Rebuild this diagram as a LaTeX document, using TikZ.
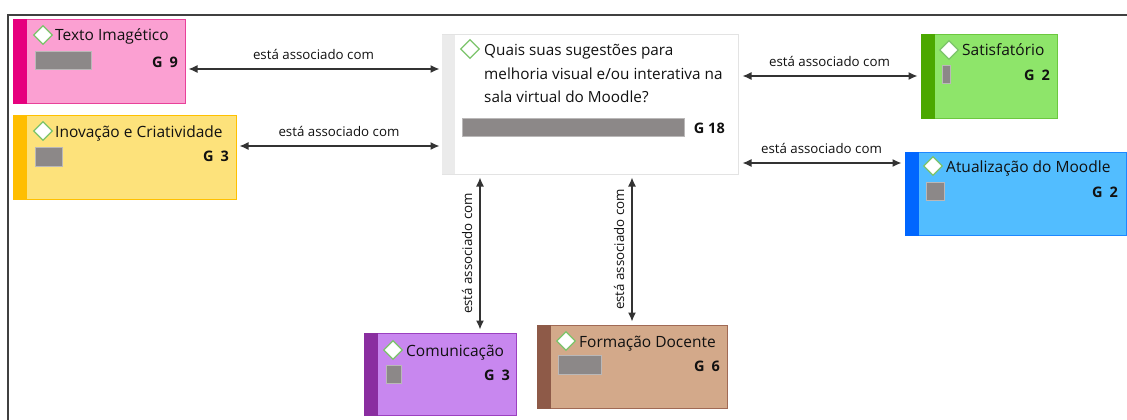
\documentclass[tikz,border=0pt]{standalone}
\usepackage{fontspec}
\setmainfont{Open Sans}
\usetikzlibrary{shapes.geometric,arrows.meta,calc}
\definecolor{pinkF}{HTML}{FBA0D2}\definecolor{pinkS}{HTML}{E6007E}\definecolor{pinkB}{HTML}{E8419A}
\definecolor{yelF}{HTML}{FDE27B}\definecolor{yelS}{HTML}{FFBE00}\definecolor{yelB}{HTML}{FFC000}
\definecolor{grnF}{HTML}{8EE56A}\definecolor{grnS}{HTML}{4BA800}\definecolor{grnB}{HTML}{6CC83F}
\definecolor{bluF}{HTML}{52BDFF}\definecolor{bluS}{HTML}{0066FF}\definecolor{bluB}{HTML}{1E88FF}
\definecolor{purF}{HTML}{C887EF}\definecolor{purS}{HTML}{8A2EA0}\definecolor{purB}{HTML}{9B40C0}
\definecolor{brnF}{HTML}{D3A98A}\definecolor{brnS}{HTML}{8E5A48}\definecolor{brnB}{HTML}{A06A55}
\definecolor{barC}{HTML}{8C8888}\definecolor{cenB}{HTML}{E3E3E3}\definecolor{cenS}{HTML}{EBEBEB}
\definecolor{dia}{HTML}{7CC46B}\definecolor{arr}{HTML}{333333}\definecolor{txt}{HTML}{111111}
\tikzset{
  codebox/.style={draw=#1B, fill=#1F, line width=1pt, inner sep=0pt},
  dmark/.style={diamond, draw=dia, fill=white, line width=1.3pt, inner sep=0pt, minimum width=19pt, minimum height=19pt},
  ttl/.style={anchor=base west, inner sep=0pt, text=txt, font=\fontsize{15.5}{18}\selectfont},
  ctl/.style={anchor=base west, inner sep=0pt, text=txt, font=\fontsize{15.3}{18}\selectfont},
  gval/.style={anchor=base east, inner sep=0pt, text=txt, font=\fontsize{14.5}{17}\selectfont\bfseries},
  gbar/.style={fill=barC, draw=barC!60, line width=0.5pt},
  assoc/.style={{Latex[length=9pt,width=8pt]}-{Latex[length=9pt,width=8pt]}, draw=arr, line width=1.3pt},
  albl/.style={inner sep=0pt, text=txt, font=\fontsize{13.3}{16}\selectfont}
}
\begin{document}
\begin{tikzpicture}[x=1pt,y=-1pt]
\useasboundingbox (0,0) rectangle (1127,420);
% frame
\draw[line width=1.5pt, draw=black!75] (8,421) -- (8,15) -- (1128,15);

% central node
\node[draw=cenB, fill=white, line width=1pt, minimum width=296pt, minimum height=139pt, inner sep=0pt] (cen) at (590,104.5) {};
\fill[cenS] ([xshift=0.5pt,yshift=-0.5pt]cen.north west) rectangle ([xshift=13pt,yshift=0.5pt]cen.south west);
\node[dmark] (dc) at (470,49) {};
\node[ctl] (tc1) at (484,56) {Quais suas sugestões para};
\node[ctl] (tc2) at (484,79) {melhoria visual e/ou interativa na};
\node[ctl] (tc3) at (484,102) {sala virtual do Moodle?};
\draw[gbar] (462,118) rectangle (684,136);
\node[gval] (gc) at (725,133) {G 18};

% Texto Imagetico
\node[codebox=pink, minimum width=172pt, minimum height=83pt] (tx) at (99,61.5) {};
\fill[pinkS] (tx.north west) rectangle ([xshift=14pt]tx.south west);
\node[dmark] (d1) at (43,35) {};
\node[ttl] (t1) at (55,41) {Texto Imagético};
\draw[gbar] (35,51) rectangle (91,69);
\node[gval] (g1) at (178,67) {G\hspace{7pt}9};

% Inovacao
\node[codebox=yel, minimum width=223pt, minimum height=84pt] (in) at (124.5,157) {};
\fill[yelS] (in.north west) rectangle ([xshift=14pt]in.south west);
\node[dmark] (d2) at (43,131) {};
\node[ttl] (t2) at (55,137) {Inovação e Criatividade};
\draw[gbar] (35,147) rectangle (62,166);
\node[gval] (g2) at (229,161) {G\hspace{7pt}3};

% Satisfatorio
\node[codebox=grn, minimum width=136pt, minimum height=83pt] (sa) at (989,76.5) {};
\fill[grnS] (sa.north west) rectangle ([xshift=14pt]sa.south west);
\node[dmark] (d3) at (949,50) {};
\node[ttl] (t3) at (962,56) {Satisfatório};
\draw[gbar] (942,65) rectangle (950,83);
\node[gval] (g3) at (1050,81) {G\hspace{7pt}2};

% Atualizacao
\node[codebox=blu, minimum width=221pt, minimum height=83pt] (at) at (1015.5,193.5) {};
\fill[bluS] (at.north west) rectangle ([xshift=14pt]at.south west);
\node[dmark] (d4) at (933,166) {};
\node[ttl] (t4) at (946,172) {Atualização do Moodle};
\draw[gbar] (926,182) rectangle (944,200);
\node[gval] (g4) at (1118,197) {G\hspace{7pt}2};

% Comunicacao
\node[codebox=pur, minimum width=152pt, minimum height=82pt] (co) at (440,374) {};
\fill[purS] (co.north west) rectangle ([xshift=14pt]co.south west);
\node[dmark] (d5) at (393,350) {};
\node[ttl] (t5) at (406,356) {Comunicação};
\draw[gbar] (386,365) rectangle (401,383);
\node[gval] (g5) at (510,380) {G\hspace{7pt}3};

% Formacao Docente
\node[codebox=brn, minimum width=190pt, minimum height=83pt] (fo) at (632,366.5) {};
\fill[brnS] (fo.north west) rectangle ([xshift=14pt]fo.south west);
\node[dmark] (d6) at (566,341) {};
\node[ttl] (t6) at (579,347) {Formação Docente};
\draw[gbar] (558,355) rectangle (601,374);
\node[gval] (g6) at (720,371) {G\hspace{7pt}6};

% connectors
\coordinate (cx) at (480,0);
\draw[assoc, shorten <=3pt, shorten >=2pt] ([yshift=-7.5pt]tx.east) -- ([yshift=-7.5pt]tx.east -| cen.west)
  node[albl, midway, above=9pt] {está associado com};
\draw[assoc, shorten <=3pt, shorten >=2pt] ([yshift=11pt]in.east) -- ([yshift=11pt]in.east -| cen.west)
  node[albl, midway, above=9pt] {está associado com};
\draw[assoc, shorten <=4pt, shorten >=3pt] ([yshift=0.5pt]sa.west -| cen.east) -- ([yshift=0.5pt]sa.west)
  node[albl, midway, above=9pt] {está associado com};
\draw[assoc, shorten <=4pt, shorten >=3pt] ([yshift=30.5pt]at.west -| cen.east) -- ([yshift=30.5pt]at.west)
  node[albl, midway, above=9pt] {está associado com};
\draw[assoc, shorten <=3pt, shorten >=3pt] (cen.south -| cx) -- (co.north -| cx)
  node[albl, midway, rotate=90, above=7pt] {está associado com};
\draw[assoc, shorten <=3pt, shorten >=3pt] (cen.south -| fo.north) -- (fo.north)
  node[albl, midway, rotate=90, above=7pt] {está associado com};
\end{tikzpicture}
\end{document}
